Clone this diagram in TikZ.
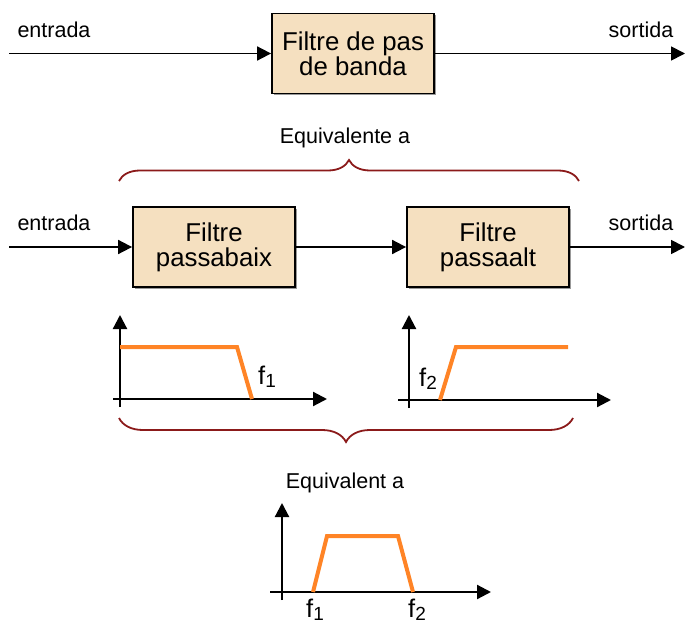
\documentclass[tikz,border=0pt]{standalone}
\usepackage{fontspec}
\setmainfont{Liberation Sans}
\usetikzlibrary{arrows.meta,positioning,decorations.pathreplacing,shadows}
\definecolor{boxfill}{HTML}{F5E0C0}
\definecolor{resp}{HTML}{FF8426}
\definecolor{clau}{HTML}{8B1A1A}
\newcommand{\freq}[1]{f\raisebox{-2.5pt}{\fontsize{19}{19}\selectfont #1}}

\begin{document}
\begin{tikzpicture}[>={Triangle[length=14pt,width=14pt]},x=1pt,y=-1pt,
  filtre/.style={draw,line width=1.8pt,fill=boxfill,minimum width=162pt,
    minimum height=80pt,align=center,inner sep=0pt,
    font=\fontsize{25.8}{25}\selectfont,
    drop shadow={shadow xshift=1.5pt,shadow yshift=-1.5pt,fill=black!40,opacity=1}},
  etiq/.style={font=\fontsize{21.5}{24}\selectfont,inner sep=0pt},
  fnode/.style={font=\fontsize{25.5}{26}\selectfont,inner sep=0pt},
  senyal/.style={->,line width=1.8pt},
  eix/.style={->,line width=2.2pt},
  corba/.style={resp,line width=4pt},
  clauamp/.style={decorate,decoration={brace,amplitude=#1},clau,line width=1.8pt}]
 \useasboundingbox (0,0) rectangle (685,623);
 \foreach \y/\n in {30/1,223/2}{
   \node[etiq] (entrada\n) at (54,\y) {entrada};
   \node[etiq] (sortida\n) at (641,\y) {sortida};}
 % pas de banda
 \node[filtre] (banda) at (353,53.5) {Filtre de pas\\de banda};
 \coordinate (in1) at (9,53.5);
 \coordinate (out1) at (685,53.5);
 \draw[senyal] (in1) -- (banda);
 \draw[senyal] (banda) -- (out1);
 \node[etiq] (equiv1) at (345,138) {Equivalente a};
 \draw[clauamp=21pt] (119,181) -- (579,181);
 % passabaix + passaalt
 \node[filtre] (baix) at (214,247) {Filtre\\passabaix};
 \node[filtre] (alt) at (488,247) {Filtre\\passaalt};
 \coordinate (in2) at (9,247);
 \coordinate (out2) at (685,247);
 \draw[senyal] (in2) -- (baix);
 \draw[senyal] (baix) -- (alt);
 \draw[senyal] (alt) -- (out2);
 % respostes
 \begin{scope}[shift={(120,399)}]
   \draw[eix] (0,8) -- (0,-84);
   \draw[eix] (-7,0) -- (207,0);
   \draw[corba] (0,-52) -- (117,-52) -- (132,0);
   \node[fnode] (f1a) at (147,-22) {\freq{1}};
 \end{scope}
 \begin{scope}[shift={(409,400)}]
   \draw[eix] (0,8) -- (0,-85);
   \draw[eix] (-11,0) -- (202,0);
   \draw[corba] (31,0) -- (47,-53) -- (159,-53);
   \node[fnode] (f2a) at (19,-21) {\freq{2}};
 \end{scope}
 \draw[clauamp=24pt] (573,418) -- (119,418);
 \node[etiq] (equiv2) at (345,483) {Equivalent a};
 \begin{scope}[shift={(282,592)}]
   \draw[eix] (0,8) -- (0,-89);
   \draw[eix] (-12,0) -- (209,0);
   \draw[corba] (31,0) -- (45,-56) -- (116,-56) -- (131,0);
   \node[fnode,anchor=north] (f1b) at (33,7) {\freq{1}};
   \node[fnode,anchor=north] (f2b) at (135,7) {\freq{2}};
 \end{scope}
\end{tikzpicture}
\end{document}
